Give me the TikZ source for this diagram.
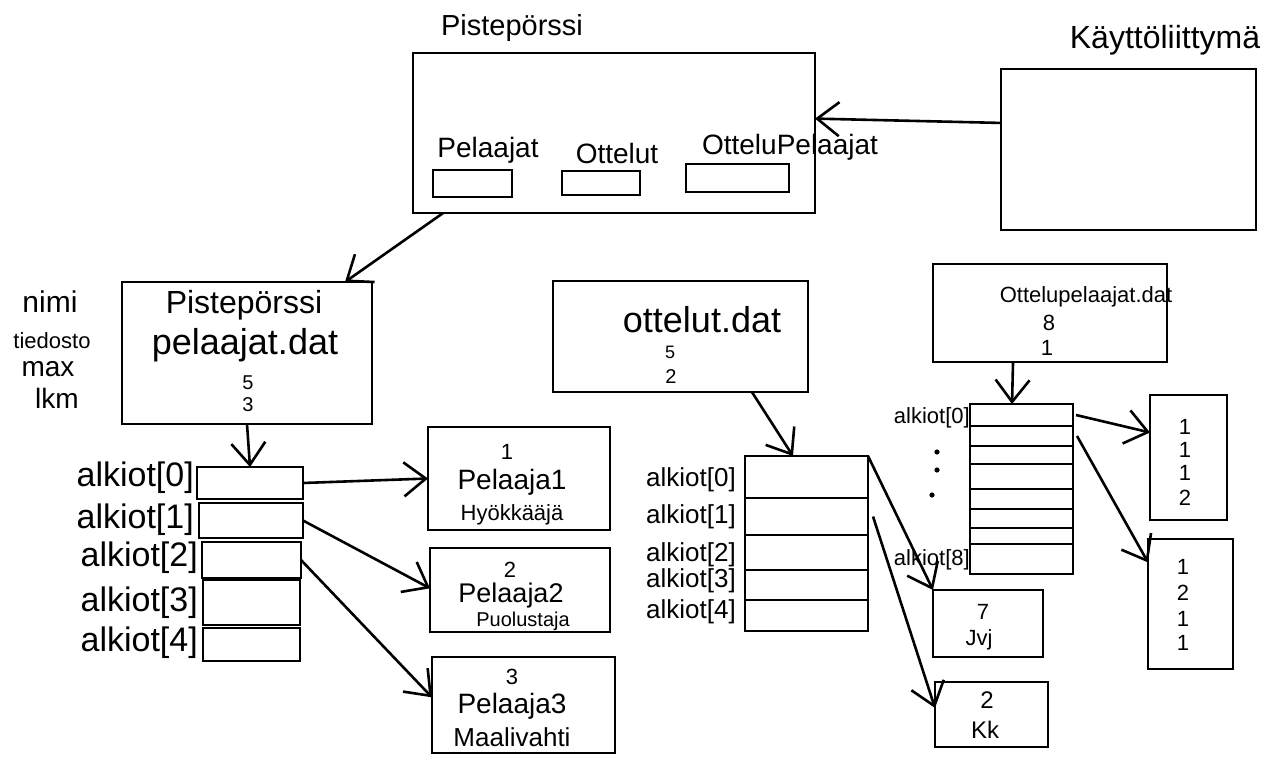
\documentclass[tikz,border=0pt]{standalone}
\usepackage{fontspec}
\setmainfont{Liberation Sans}
\usetikzlibrary{arrows.meta,calc}
\newcommand\fs[1]{\fontsize{#1}{#1}\selectfont}
\newcommand\mybox[5]{\node[box,minimum width={(#4-#2)*1pt},minimum height={(#5-#3)*1pt}] (#1) at ({(#2+#4)/2},{(#3+#5)/2}) {};}
\tikzset{
  box/.style={draw, line width=2.8pt, inner sep=0pt, outer sep=0pt},
  arr/.style={line width=2.6pt, -{Straight Barb[length=22pt,width=34pt,line width=2.6pt]}},
  lbl/.style={inner sep=0pt, font=\fs{#1}},
  lbl/.default=22,
}
\begin{document}
\begin{tikzpicture}[x=1pt,y=-1pt]
\fill[white] (0,0) rectangle (1280,768);
\useasboundingbox (0,0) rectangle (1280,768);

% top
\node[lbl=29] (t1) at (512,28) {Pistepörssi};
\mybox{main}{413}{53}{815}{213}
\node[lbl=28] (lp) at (488,150) {Pelaajat};
\node[lbl=28] (lo) at (617,153) {Ottelut};
\node[lbl=28] (lop) at (790,147) {OtteluPelaajat};
\mybox{pb}{433}{170}{512}{197}
\mybox{ob}{562}{171}{640}{195}
\mybox{opb}{686}{164}{789}{192}
\node[lbl=32] (t2) at (1165,40) {Käyttöliittymä};
\mybox{ui}{1001}{69}{1256}{230}
\draw[arr] ($(ui.north west)!0.335!(ui.south west)$) -- ($(main.north east)!0.41!(main.south east)$);

% players file
\node[lbl=30] (n1) at (50,302) {nimi};
\node[lbl=22] (n2) at (52,341) {tiedosto};
\node[lbl=28] (n3) at (48,369) {max};
\node[lbl=28] (n4) at (57,398) {lkm};
\mybox{pel}{122}{282}{372}{424}
\node[lbl=32] at (244,305) {Pistepörssi};
\node[lbl=36] at (245,345) {pelaajat.dat};
\node[lbl=20] at (248,383) {5};
\node[lbl=20] at (248,405) {3};
\draw[arr] ($(main.south west)!0.075!(main.south east)$) -- ($(pel.north west)!0.892!(pel.north east)$);

\mybox{r0}{197}{467}{303}{499}
\mybox{r1}{199}{503}{303}{538}
\mybox{r2}{202}{542}{301}{578}
\mybox{r3}{203}{580}{300}{625}
\mybox{r4}{203}{628}{300}{661}
\draw[arr] (pel.south) -- (r0.north);
\node[lbl=34,anchor=east] at (194,478) {alkiot[0]};
\node[lbl=34,anchor=east] at (194,520) {alkiot[1]};
\node[lbl=34,anchor=east] at (198,558) {alkiot[2]};
\node[lbl=34,anchor=east] at (198,603) {alkiot[3]};
\node[lbl=34,anchor=east] at (198,643) {alkiot[4]};

\mybox{p1}{428}{427}{610}{530}
\mybox{p2}{430}{548}{610}{632}
\mybox{p3}{432}{657}{615}{753}
\node[lbl] at (507,452) {1};
\node[lbl=28] at (512,482) {Pelaaja1};
\node[lbl] at (512,515) {Hyökkääjä};
\node[lbl] at (510,570) {2};
\node[lbl=27] at (511,596) {Pelaaja2};
\node[lbl=20] at (523,621) {Puolustaja};
\node[lbl] at (512,677) {3};
\node[lbl=28] at (512,706) {Pelaaja3};
\node[lbl=26] at (512,737) {Maalivahti};
\draw[arr] (r0.east) -- (p1.west);
\draw[arr] (r1.east) -- ($(p2.north west)!0.48!(p2.south west)$);
\draw[arr] (r2.east) -- ($(p3.north west)!0.42!(p3.south west)$);

% matches file
\mybox{ott}{553}{281}{808}{392}
\node[lbl=36] at (702,320) {ottelut.dat};
\node[lbl=18] at (670,352) {5};
\node[lbl=20] at (671,377) {2};
\mybox{or0}{745}{456}{868}{498}
\mybox{or1}{745}{498}{868}{535}
\mybox{or2}{745}{535}{868}{570}
\mybox{or3}{745}{570}{868}{600}
\mybox{or4}{745}{600}{868}{631}
\draw[arr] ($(ott.south west)!0.78!(ott.south east)$) -- ($(or0.north west)!0.39!(or0.north east)$);
\node[lbl=26,anchor=east] at (736,480) {alkiot[0]};
\node[lbl=26,anchor=east] at (736,517) {alkiot[1]};
\node[lbl=26,anchor=east] at (736,555) {alkiot[2]};
\node[lbl=26,anchor=east] at (736,581) {alkiot[3]};
\node[lbl=26,anchor=east] at (736,612) {alkiot[4]};
\mybox{jvj}{933}{590}{1043}{657}
\mybox{kk}{935}{682}{1048}{747}
\node[lbl] at (983,612) {7};
\node[lbl] at (979,640) {Jvj};
\node[lbl=24] at (987,700) {2};
\node[lbl=24] at (985,730) {Kk};
\draw[arr] (or0.north east) -- (jvj.north west);
\draw[arr] ([xshift=5pt]or1.east) -- ($(kk.north west)!0.4!(kk.south west)$);

% match-players file
\mybox{opel}{933}{264}{1167}{362}
\node[lbl] at (1086,297) {Ottelupelaajat.dat};
\node[lbl] at (1049,323) {8};
\node[lbl] at (1047,348) {1};
\mybox{pr0}{970}{404}{1073}{426}
\mybox{pr1}{970}{426}{1073}{446}
\mybox{pr2}{970}{446}{1073}{464}
\mybox{pr3}{970}{464}{1073}{489}
\mybox{pr4}{970}{489}{1073}{509}
\mybox{pr5}{970}{509}{1073}{528}
\mybox{pr6}{970}{528}{1073}{544}
\mybox{pr7}{970}{544}{1073}{574}
\draw[arr] ($(opel.south west)!0.342!(opel.south east)$) -- ($(pr0.north west)!0.408!(pr0.north east)$);
\node[lbl,anchor=east] at (970,418) {alkiot[0]};
\node[lbl,anchor=east] at (970,560) {alkiot[8]};
\fill (937,452) circle (2.6pt);
\fill (937,470) circle (2.6pt);
\fill (932,495) circle (2.6pt);
\mybox{b1}{1150}{395}{1227}{520}
\mybox{b2}{1148}{539}{1233}{669}
\node[lbl] at (1185,427) {1};
\node[lbl] at (1185,450) {1};
\node[lbl] at (1185,473) {1};
\node[lbl] at (1185,498) {2};
\node[lbl] at (1183,567) {1};
\node[lbl] at (1183,593) {2};
\node[lbl] at (1183,619) {1};
\node[lbl] at (1183,643) {1};
\draw[arr] ([xshift=3pt]pr0.east) -- ($(b1.north west)!0.3!(b1.south west)$);
\draw[arr] ([xshift=4pt]pr1.east) -- ($(b2.north west)!0.18!(b2.south west)$);
\end{tikzpicture}
\end{document}
